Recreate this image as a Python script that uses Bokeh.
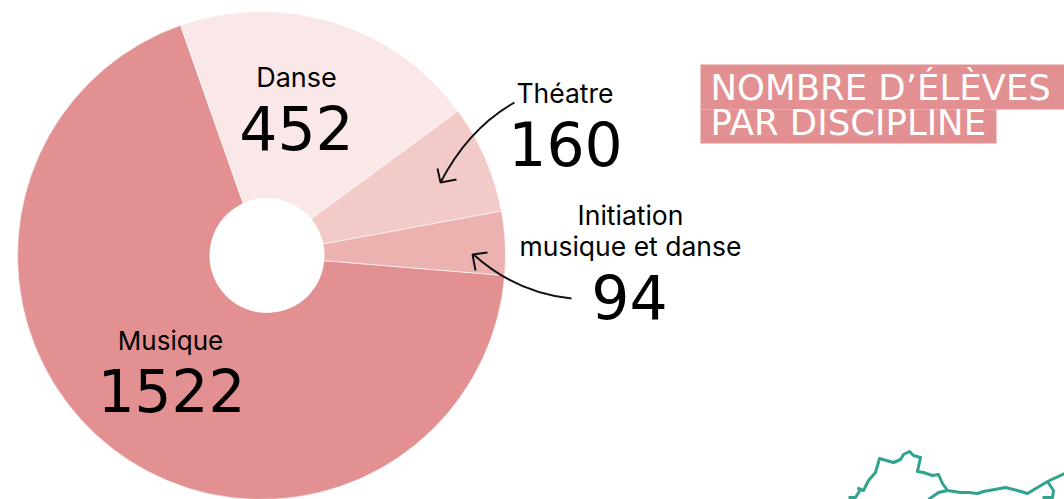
import math
from bokeh.plotting import figure
from bokeh.models import ColumnDataSource, Range1d
from bokeh.core.properties import value
from bokeh.embed import file_html
from bokeh.resources import INLINE

categories = ["Musique", "Danse", "Théatre", "Initiation musique et danse"]
values = [1522, 452, 160, 94]
colors = ["#e29091", "#fae8e8", "#f2cbc9", "#ecb2b0"]
title_lines = ["NOMBRE D’ÉLÈVES", "PAR DISCIPLINE"]

map_main_x = [848, 855, 860, 858, 863, 868, 875, 879, 893, 900, 903, 909, 913, 920, 917, 923, 932, 938, 942, 947, 960, 968, 977, 983, 1005, 1017, 1027, 1047, 1064]
map_main_y = [497, 497, 489, 488, 490, 480, 472, 458, 462, 459, 454, 451, 455, 457, 471, 472, 475, 474, 483, 490, 492, 492, 493, 491, 487, 490, 493, 481, 473]
map_b1_x = [947, 938, 928]
map_b1_y = [490, 492, 499]
map_b2_x = [1047, 1053, 1052, 1042]
map_b2_y = [481, 490, 497, 497]

W, H = 1064, 499
Y = lambda py: 499 - py

p = figure(width=W, height=H, output_backend="svg", toolbar_location=None,
           x_range=Range1d(0, 1064), y_range=Range1d(0, 499),
           min_border=0, outline_line_color=None, background_fill_color="white")
p.axis.visible = False
p.grid.visible = False

# donut: slices meet at the pie centre, the hole sits slightly off-centre
total = sum(values)
starts, ends = [], []
a = math.radians(-4.7)
for v in values:
    b = a - v / total * 2 * math.pi
    starts.append(b)
    ends.append(a)
    a = b
src = ColumnDataSource(dict(cat=categories, val=values, color=colors, s=starts, e=ends))
p.wedge(x=261, y=Y(255), radius=244,
        start_angle="s", end_angle="e", direction="anticlock",
        fill_color="color", line_color="white", line_width=0.6, source=src)
p.circle(x=[266.5], y=[Y(255)], radius=57.5, fill_color="white", line_color=None)

# title boxes
p.quad(left=[700, 700], right=[1064, 996], bottom=[Y(109), Y(143)], top=[Y(64), Y(109)],
       fill_color="#e29091", line_color=None)


def txt(x, y, s, size, font="Inter", color="black", align="center", style="normal"):
    p.text(x=[x], y=[Y(y)], text=[s], text_font=value(font), text_font_size=f"{size}px",
           text_color=color, text_align=align, text_baseline="middle", text_font_style=style)


txt(296, 77, "Danse", 27)
txt(296, 127, str(values[1]), 60, "DejaVu Sans")
txt(516, 92, "Théatre", 26.5, align="left")
txt(565, 143, str(values[2]), 60, "DejaVu Sans")
txt(630, 214, "Initiation", 26.5)
txt(630, 245, "musique et danse", 26.5)
txt(629, 296, str(values[3]), 60, "DejaVu Sans")
txt(170, 340, "Musique", 26)
txt(171, 390, str(values[0]), 58, "DejaVu Sans")
txt(710, 87, title_lines[0], 35.5, "DejaVu Sans", "white", "left")
txt(710, 122, title_lines[1], 35.5, "DejaVu Sans", "white", "left")

# arrows
p.quadratic(x0=[514], y0=[Y(102)], x1=[440], y1=[Y(182)], cx=[468], cy=[Y(128)],
            line_color="#111111", line_width=2)
p.multi_line(xs=[[437, 440, 456]], ys=[[Y(168), Y(182), Y(179)]], line_color="#111111", line_width=2)
p.quadratic(x0=[571], y0=[Y(298)], x1=[473], y1=[Y(254)], cx=[515], cy=[Y(292)],
            line_color="#111111", line_width=2)
p.multi_line(xs=[[487, 472, 475]], ys=[[Y(252), Y(254), Y(270)]], line_color="#111111", line_width=2)

# map fragment
for xs, ys in [(map_main_x, map_main_y), (map_b1_x, map_b1_y), (map_b2_x, map_b2_y)]:
    p.line(xs, [Y(v) for v in ys], line_color="#2fa38e", line_width=3, line_join="round")

open("out.html", "w").write(file_html(p, INLINE))
